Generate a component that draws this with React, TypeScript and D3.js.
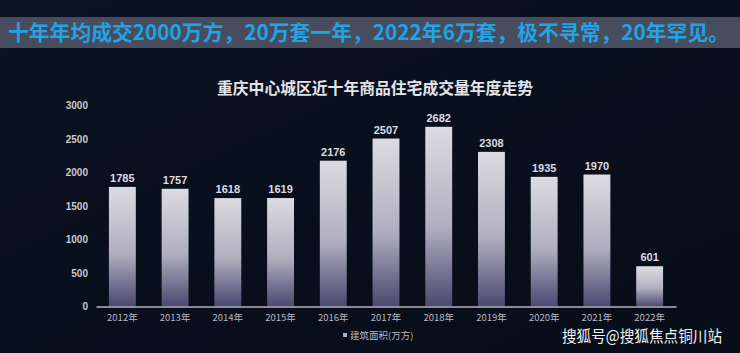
import React, { useEffect, useRef } from "react";
import * as d3 from "d3";

const years = ["2012年", "2013年", "2014年", "2015年", "2016年", "2017年", "2018年", "2019年", "2020年", "2021年", "2022年"];
const areas = [1785, 1757, 1618, 1619, 2176, 2507, 2682, 2308, 1935, 1970, 601];
const yTicks = [0, 500, 1000, 1500, 2000, 2500, 3000];

const headline = "十年年均成交2000万方，20万套一年，2022年6万套，极不寻常，20年罕见。";
const chartTitle = "重庆中心城区近十年商品住宅成交量年度走势";
const seriesName = "建筑面积(万方)";
const watermark = "搜狐号@搜狐焦点铜川站";

const W = 740;
const H = 353;
const font = "'Noto Sans CJK SC', 'Noto Sans', sans-serif";

const App = () => {
  const ref = useRef<SVGSVGElement>(null);

  useEffect(() => {
    const svg = d3.select(ref.current);
    svg.selectAll("*").remove();

    const defs = svg.append("defs");
    const bg = defs.append("linearGradient").attr("id", "bg").attr("x1", 0).attr("y1", 0).attr("x2", 1).attr("y2", 1);
    bg.append("stop").attr("offset", "0%").attr("stop-color", "#0a1120");
    bg.append("stop").attr("offset", "100%").attr("stop-color", "#070d18");

    const barGrad = defs.append("linearGradient").attr("id", "bar").attr("x1", 0).attr("y1", 0).attr("x2", 0).attr("y2", 1);
    barGrad.append("stop").attr("offset", "0%").attr("stop-color", "#dcdbe2");
    barGrad.append("stop").attr("offset", "55%").attr("stop-color", "#b1afbf");
    barGrad.append("stop").attr("offset", "100%").attr("stop-color", "#4a4870");

    svg.append("rect").attr("width", W).attr("height", H).attr("fill", "url(#bg)");

    // headline banner
    svg.append("rect").attr("x", 0).attr("y", 17).attr("width", W).attr("height", 31).attr("fill", "#474d5c");
    svg
      .append("text")
      .attr("x", 8)
      .attr("y", 40)
      .attr("textLength", 721)
      .attr("lengthAdjust", "spacingAndGlyphs")
      .style("font-family", font)
      .style("font-size", "21px")
      .style("font-weight", "bold")
      .attr("fill", "#22a3e6")
      .text(headline);

    svg
      .append("text")
      .attr("x", 375)
      .attr("y", 94)
      .attr("text-anchor", "middle")
      .attr("textLength", 316)
      .attr("lengthAdjust", "spacingAndGlyphs")
      .style("font-family", font)
      .style("font-size", "16px")
      .style("font-weight", "bold")
      .attr("fill", "#e4e4ea")
      .text(chartTitle);

    const x = d3.scaleBand().domain(years).range([96, 676]).paddingInner(0.49).paddingOuter(0.245);
    const y = d3.scaleLinear().domain([0, 3000]).range([306.5, 105.5]);

    const yAxis = svg
      .append("g")
      .attr("transform", "translate(92,0)")
      .call(d3.axisLeft(y).tickValues(yTicks).tickFormat(d3.format("d")).tickSize(0).tickPadding(4));
    yAxis.select(".domain").remove();
    yAxis
      .selectAll("text")
      .style("font-family", "'Liberation Sans', Arial, sans-serif")
      .style("font-size", "10px")
      .style("font-weight", "bold")
      .attr("fill", "#c9c9d0");

    svg
      .selectAll(".bar")
      .data(areas)
      .enter()
      .append("rect")
      .attr("class", "bar")
      .attr("x", (_d, i) => x(years[i]) as number)
      .attr("y", (d) => y(d))
      .attr("width", x.bandwidth())
      .attr("height", (d) => y(0) - y(d))
      .attr("fill", "url(#bar)");

    svg
      .selectAll(".val")
      .data(areas)
      .enter()
      .append("text")
      .attr("class", "val")
      .attr("x", (_d, i) => (x(years[i]) as number) + x.bandwidth() / 2)
      .attr("y", (d) => y(d) - 5)
      .attr("text-anchor", "middle")
      .style("font-family", "'Liberation Sans', Arial, sans-serif")
      .style("font-size", "11px")
      .style("font-weight", "bold")
      .attr("fill", "#dcdce2")
      .text((d) => d);

    const xAxis = svg.append("g").attr("transform", "translate(0,306.5)").call(d3.axisBottom(x).tickSize(0).tickPadding(8));
    xAxis.select(".domain").attr("stroke", "#b4b4bc").attr("stroke-width", 1.5);
    xAxis
      .selectAll("text")
      .style("font-family", font)
      .style("font-size", "9.5px")
      .attr("fill", "#b8b8c2");

    // legend
    svg.append("rect").attr("x", 343).attr("y", 333).attr("width", 4).attr("height", 4).attr("fill", "#b0b0bc");
    svg
      .append("text")
      .attr("x", 350)
      .attr("y", 339)
      .style("font-family", font)
      .style("font-size", "9.5px")
      .attr("fill", "#b8b8c2")
      .text(seriesName);

    svg
      .append("text")
      .attr("x", 562)
      .attr("y", 342)
      .attr("textLength", 160)
      .attr("lengthAdjust", "spacingAndGlyphs")
      .style("font-family", font)
      .style("font-size", "16px")
      .attr("fill", "#f2f2f2")
      .text(watermark);

    return () => {
      svg.selectAll("*").remove();
    };
  }, []);

  return <svg ref={ref} width={W} height={H} style={{ position: "absolute", left: 0, top: 0 }}></svg>;
};

export default App;
